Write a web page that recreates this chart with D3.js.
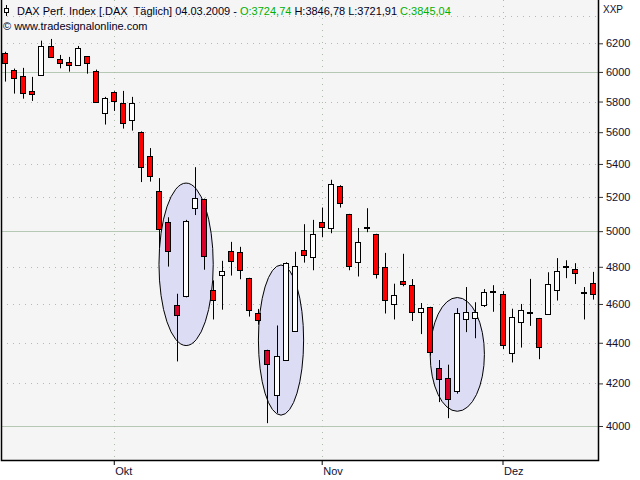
<!DOCTYPE html>
<html><head><meta charset="utf-8">
<script src="https://cdn.jsdelivr.net/npm/d3@7"></script>
<style>
body{margin:0;background:#fff}
svg{display:block}
text{font-family:"Liberation Sans",Arial,sans-serif}
</style>
</head><body>
<svg id="c" width="640" height="480"></svg>
<script>
// ---- DATA ----
const dates = [
 "2008-09-15","2008-09-16","2008-09-17","2008-09-18","2008-09-19","2008-09-22","2008-09-23","2008-09-24","2008-09-25","2008-09-26","2008-09-29","2008-09-30",
 "2008-10-01","2008-10-02","2008-10-03","2008-10-06","2008-10-07","2008-10-08","2008-10-09","2008-10-10","2008-10-13","2008-10-14","2008-10-15","2008-10-16","2008-10-17","2008-10-20","2008-10-21","2008-10-22","2008-10-23","2008-10-24","2008-10-27","2008-10-28","2008-10-29","2008-10-30","2008-10-31",
 "2008-11-03","2008-11-04","2008-11-05","2008-11-06","2008-11-07","2008-11-10","2008-11-11","2008-11-12","2008-11-13","2008-11-14","2008-11-17","2008-11-18","2008-11-19","2008-11-20","2008-11-21","2008-11-24","2008-11-25","2008-11-26","2008-11-27","2008-11-28",
 "2008-12-01","2008-12-02","2008-12-03","2008-12-04","2008-12-05","2008-12-08","2008-12-09","2008-12-10","2008-12-11","2008-12-12","2008-12-15"
];
const openV  = [6130,6016,5971,5869,5977,6179,6088,6067,6051,6109,6005,5723,5862,5789,5678,5600,5448,5234,5052,4593,4641,5133,5186,4673,4754,4887,4881,4738,4555,4363,4144,4314,4459,4892,4853,5052,5017,5266,5100,4825,5020,4982,4797,4598,4722,4700,4557,4583,4274,4225,4165,4521,4526,4593,4666,4654,4348,4505,4559,4526,4547,4673,4806,4787,4661,4713];
const highV  = [6140,6023,6028,5966,6219,6231,6118,6104,6181,6109,6016,5831,5869,5871,5831,5605,5499,5313,5080,4654,5065,5380,5190,4726,4833,4939,4911,4740,4574,4365,4488,4825,4883,5040,5065,5137,5303,5270,5100,5018,5133,4985,4877,4708,4872,4733,4605,4585,4314,4291,4578,4690,4609,4679,4700,4668,4575,4600,4734,4527,4770,4848,4836,4820,4690,4772];
const lowV   = [5934,5853,5819,5804,5977,6102,6025,6002,6044,5988,5792,5649,5738,5623,5610,5289,5292,4902,4801,4307,4635,5093,4784,4519,4570,4752,4732,4534,4492,4013,4060,4310,4455,4823,4781,4965,4988,5137,4781,4747,4994,4736,4550,4519,4694,4511,4444,4336,4111,4036,4151,4454,4423,4584,4559,4368,4302,4376,4486,4318,4547,4618,4738,4706,4519,4623];
const closeV = [6060,5957,5856,5853,6179,6102,6062,6046,6165,6060,5799,5824,5802,5658,5791,5380,5325,5011,4887,4541,5059,5192,4859,4620,4776,4831,4781,4567,4516,4294,4333,4820,4803,4864,4982,5022,5278,5163,4806,4939,5021,4760,4621,4647,4706,4557,4578,4353,4220,4125,4552,4557,4557,4663,4667,4390,4531,4567,4560,4378,4708,4776,4807,4765,4662,4652];

const yTicks = [4000,4200,4400,4600,4800,5000,5200,5400,5600,5800,6000,6200];
const yGridExtra = [6400];
const monthStarts = ["2008-10-01","2008-11-03","2008-12-01"];
const monthLabels = ["Okt","Nov","Dez"];
// annotation ellipses: [startDate, endDate, topValue, bottomValue]
const ellipseStart = ["2008-10-08","2008-10-23","2008-11-19"];
const ellipseEnd   = ["2008-10-16","2008-10-30","2008-11-27"];
const ellipseTop   = [5283,4810,4634];
const ellipseBot   = [4386,4050,4068];

const headerMain = "DAX Perf. Index [.DAX\u00a0 Täglich] 04.03.2009 -";
const headerO = "O:3724,74", headerH = "H:3846,78", headerL = "L:3721,91", headerC = "C:3845,04";
const copyright = "© www.tradesignalonline.com";
const unitLabel = "XXP";

// ---- CHART ----
const svg = d3.select("#c");
const P = {left:1, right:598, top:0, bottom:460};
const x = d3.scalePoint().domain(dates).range([5.3, 592.9]);
const y = d3.scaleLog().domain([4000,6200]).range([426,43.3]);

svg.append("rect").attr("x",P.left).attr("y",P.top).attr("width",P.right-P.left).attr("height",P.bottom-P.top).attr("fill","#f5f5f5");

// horizontal grid
const gridG = svg.append("g");
yTicks.concat(yGridExtra).forEach(v=>{
  const yy = Math.round(y(v))+0.5;
  const solid = v%1000===0;
  gridG.append("line").attr("x1",P.left).attr("x2",P.right).attr("y1",yy).attr("y2",yy)
    .attr("stroke", solid? "#b4c8b4":"#b8b8b8").attr("stroke-width",1)
    .attr("stroke-dasharray", solid? null : "1,5");
});
// vertical grid
monthStarts.forEach(d=>{
  const xx = Math.round(x(d))+0.5;
  gridG.append("line").attr("x1",xx).attr("x2",xx).attr("y1",P.top).attr("y2",P.bottom)
    .attr("stroke","#a8bca8").attr("stroke-dasharray","1,5");
});

// ellipses
const defs = svg.append("defs");
const clip = defs.append("clipPath").attr("id","ellClip");
const eG = svg.append("g");
ellipseStart.forEach((s,i)=>{
  const x0 = x(s), x1 = x(ellipseEnd[i]);
  const y0 = y(ellipseTop[i]), y1 = y(ellipseBot[i]);
  const e = {cx:(x0+x1)/2, cy:(y0+y1)/2, rx:(x1-x0)/2, ry:(y1-y0)/2};
  eG.append("ellipse").attr("cx",e.cx).attr("cy",e.cy).attr("rx",e.rx).attr("ry",e.ry)
    .attr("fill","#dcdcf4").attr("stroke","#000").attr("stroke-width",1);
  clip.append("ellipse").attr("cx",e.cx).attr("cy",e.cy).attr("rx",e.rx).attr("ry",e.ry);
});

// candles
const cG = svg.append("g");
const idx = d3.range(dates.length);
const cx = i => Math.round(x(dates[i]));
const bodyY = i => Math.round(y(Math.max(openV[i],closeV[i])))+0.5;
const bodyH = i => Math.max(1, Math.round(y(Math.min(openV[i],closeV[i])))-Math.round(y(Math.max(openV[i],closeV[i]))));
cG.selectAll("line.w").data(idx).join("line").attr("class","w")
  .attr("x1",i=>cx(i)+0.5).attr("x2",i=>cx(i)+0.5)
  .attr("y1",i=>y(highV[i])).attr("y2",i=>y(lowV[i]))
  .attr("stroke","#000").attr("stroke-width",1);
cG.selectAll("rect.b").data(idx).join("rect").attr("class","b")
  .attr("x",i=>cx(i)-2.5).attr("width",5)
  .attr("y",bodyY).attr("height",bodyH)
  .attr("fill",i=> closeV[i]>=openV[i] ? "#ffffff" : "#ff0000")
  .attr("stroke","#000").attr("stroke-width",1);
// tinted red bodies under the ellipse highlight
const downIdx = idx.filter(i=>closeV[i]<openV[i]);
svg.append("g").attr("clip-path","url(#ellClip)").selectAll("rect").data(downIdx).join("rect")
  .attr("x",i=>cx(i)-2).attr("width",4)
  .attr("y",i=>bodyY(i)+0.5).attr("height",i=>Math.max(0,bodyH(i)-1))
  .attr("fill","#d6002a");

// frame
svg.append("path").attr("d",`M${P.left+0.5},${P.top}V${P.bottom+0.5}H${P.right+0.5}V${P.top}`)
  .attr("fill","none").attr("stroke","#000").attr("stroke-width",1.5);

// axes
const yAxis = d3.axisRight(y).tickValues(yTicks).tickFormat(d3.format("d")).tickSize(4).tickPadding(3);
const ya = svg.append("g").attr("transform",`translate(${P.right+1},0)`).call(yAxis);
ya.select(".domain").remove();
ya.selectAll("line").attr("stroke","#333");
ya.selectAll("text").attr("font-size",11).attr("fill","#101030").attr("font-family","Liberation Sans, Arial, sans-serif");

const xAxis = d3.axisBottom(x).tickValues(monthStarts).tickFormat((d,i)=>monthLabels[i]).tickSize(4).tickPadding(2);
const xa = svg.append("g").attr("transform",`translate(0,${P.bottom+1})`).call(xAxis);
xa.select(".domain").remove();
xa.selectAll("line").attr("stroke","#000");
xa.selectAll("text").attr("font-size",11).attr("fill","#101030").attr("text-anchor","start").attr("dx",1)
  .attr("font-family","Liberation Sans, Arial, sans-serif");

// header
const hG = svg.append("g").attr("font-size",11);
hG.append("line").attr("x1",6.5).attr("x2",6.5).attr("y1",5).attr("y2",16).attr("stroke","#000");
hG.append("rect").attr("x",4.5).attr("y",8.5).attr("width",4).attr("height",4).attr("fill","#fff").attr("stroke","#000");
const t = hG.append("text").attr("x",17).attr("y",15).attr("fill","#000020");
t.append("tspan").text(headerMain);
t.append("tspan").attr("x",240).attr("fill","#00b000").text(headerO);
t.append("tspan").attr("dx",3).text(headerH);
t.append("tspan").attr("dx",3).text(headerL);
t.append("tspan").attr("dx",3).attr("fill","#00b000").text(headerC);
hG.append("text").attr("x",3).attr("y",29.5).attr("fill","#000020").text(copyright);
svg.append("text").attr("x",603).attr("y",13).attr("font-size",10).attr("fill","#101030").text(unitLabel);
</script>
</body></html>
